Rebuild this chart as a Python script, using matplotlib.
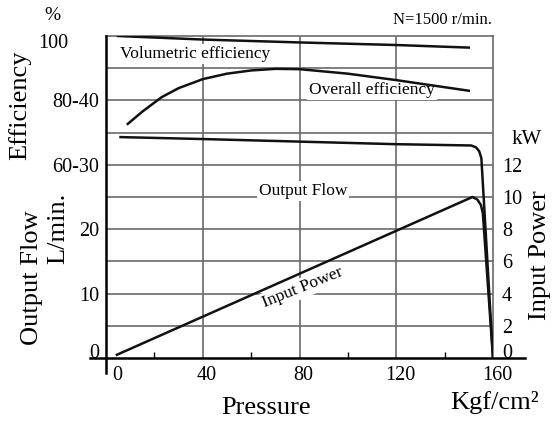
import matplotlib.pyplot as plt
from matplotlib.transforms import ScaledTranslation

plt.rcParams['font.family'] = ['Liberation Serif', 'DejaVu Serif']

# values (pressure in Kgf/cm2)
vol_p = [5, 40, 80, 120, 150]
vol_eff = [100, 98.9, 98.0, 97.2, 96.4]

tot_p = [9, 15, 23, 30, 40, 50, 60, 70, 80, 100, 120, 150]
tot_eff = [72.7, 76.5, 81, 83.8, 86.6, 88.3, 89.3, 89.8, 89.7, 88.3, 86.3, 83.0]

flow_p = [6, 40, 80, 120, 151, 153, 154.3, 155.2, 160]
flow_q = [34.3, 34.0, 33.6, 33.2, 33.0, 32.7, 32.1, 31.0, 0]

pow_p = [4.5, 151.5, 153.5, 155, 155.8, 160]
pow_kw = [0.2, 10.0, 9.85, 9.5, 9.0, 0]

x_ticks = [0, 40, 80, 120, 160]
x_minor = [20, 60, 100, 140]
left_ticks = [0, 10, 20, 30, 40]
left_labels = ['0', '10', '20', '60-30', '80-40']
kw_ticks = [0, 2, 4, 6, 8, 10, 12]

W, H = 553, 424
GRID = '#6a6a6a'
INK = '#111111'


def fx(x):
    return x / W


def fy(y):
    return 1 - y / H


fig = plt.figure(figsize=(W / 100, H / 100), dpi=100)
ax = fig.add_axes([106 / W, 66 / H, 387 / W, 322 / H])
ax.set_xlim(0, 160)
ax.set_ylim(0, 50)

# grid
for y in range(5, 50, 5):
    ax.axhline(y, color=GRID, lw=1.2, zorder=1)
for x in x_ticks[1:-1]:
    ax.axvline(x, color=GRID, lw=1.2, zorder=1)

for s in ['top', 'right']:
    ax.spines[s].set_color(GRID)
    ax.spines[s].set_linewidth(1.2)
for s in ['left', 'bottom']:
    ax.spines[s].set_visible(False)

# axis lines that run past the plot box
ax.plot([0, 0], [-0.047, 1], transform=ax.transAxes, color='black', lw=1.8, clip_on=False, zorder=4)
ax.plot([-0.041, 1.083], [0, 0], transform=ax.transAxes, color='black', lw=1.8, clip_on=False, zorder=4)

ax.set_xticks(x_ticks, [str(v) for v in x_ticks])
ax.set_xticks(x_minor, minor=True)
ax.tick_params(axis='x', which='major', length=0, pad=5.5, labelsize=14.5)
ax.tick_params(axis='x', which='minor', direction='in', length=4, width=1, color='black')
for lbl in ax.get_xticklabels():
    dx = 11 if lbl.get_text() == '0' else 4
    lbl.set_transform(lbl.get_transform() + ScaledTranslation(dx / 100, 0, fig.dpi_scale_trans))

ax.set_yticks(left_ticks, left_labels)
ax.tick_params(axis='y', length=0, pad=5, labelsize=14.5)
ax.get_yticklabels()[0].set_va('baseline')

# second axes: power in kW
axk = ax.twinx()
axk.set_ylim(0, 20)
axk.set_yticks(kw_ticks, [str(v) for v in kw_ticks])
axk.tick_params(axis='y', length=0, pad=6.5, labelsize=14.5)
axk.get_yticklabels()[0].set_va('baseline')
for s in axk.spines.values():
    s.set_visible(False)

# third axes: efficiency in %
axe = ax.twinx()
axe.set_ylim(0, 100)
axe.axis('off')

ax.plot(flow_p, flow_q, color=INK, lw=1.8, zorder=4)
axk.plot(pow_p, pow_kw, color=INK, lw=1.8)
axe.plot(vol_p, vol_eff, color=INK, lw=1.8)
axe.plot(tot_p, tot_eff, color=INK, lw=1.8)

box = dict(facecolor='white', edgecolor='none', pad=1.5)
ax.text(36.8, 47.2, 'Volumetric efficiency', fontsize=12.5, ha='center', va='center', bbox=box, zorder=3)
ax.text(110, 41.6, 'Overall efficiency', fontsize=12.5, ha='center', va='center', bbox=box, zorder=3)
ax.text(81.4, 25.9, 'Output Flow', fontsize=12.5, ha='center', va='center', bbox=box, zorder=3)
ax.text(81.4, 10.9, 'Input Power', fontsize=12.5, ha='center', va='center', rotation=22,
        rotation_mode='anchor', bbox=box, zorder=3)

# outer texts
fig.text(fx(52), fy(15), '%', fontsize=14, ha='center', va='center')
fig.text(fx(53), fy(43), '100', fontsize=14.5, ha='center', va='center')
fig.text(fx(20), fy(105), 'Efficiency', fontsize=19, rotation=90, ha='center', va='center')
fig.text(fx(32), fy(278), 'Output Flow', fontsize=19, rotation=90, ha='center', va='center')
fig.text(fx(58), fy(228), 'L/min.', fontsize=19, rotation=90, ha='center', va='center')
fig.text(fx(492), fy(20), 'N=1500 r/min.', fontsize=12, ha='right', va='center')
fig.text(fx(527), fy(140), 'kW', fontsize=15, ha='center', va='center')
fig.text(fx(540), fy(255), 'Input Power', fontsize=19, rotation=90, ha='center', va='center')
fig.text(fx(266), fy(408), 'Pressure', fontsize=19, ha='center', va='center')
fig.text(fx(495), fy(403), 'Kgf/cm²', fontsize=19, ha='center', va='center')

fig.savefig('out.png', dpi=100)
